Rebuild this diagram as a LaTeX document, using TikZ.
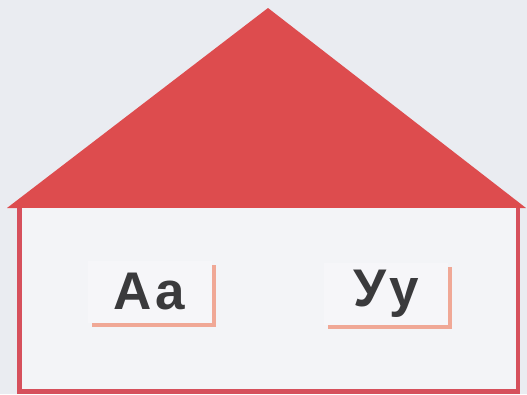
\documentclass[tikz,border=0pt]{standalone}
\usepackage{fontspec}
\setmainfont{Liberation Sans}
\begin{document}
\definecolor{bg}{RGB}{234,236,241}
\definecolor{roofred}{RGB}{221,76,78}
\definecolor{wallred}{RGB}{214,80,92}
\definecolor{cardfill}{RGB}{246,246,249}
\definecolor{shadowc}{RGB}{240,168,150}
\definecolor{letter}{RGB}{58,58,60}
\begin{tikzpicture}[x=1pt,y=-1pt,
  card/.style={draw=none, fill=cardfill, minimum width=124pt, minimum height=62pt, inner sep=0pt,
    font=\fontsize{53}{53}\selectfont\bfseries, text=letter},
  cardshadow/.style={fill=shadowc, minimum width=124pt, minimum height=62pt, inner sep=0pt, draw=none},
  wall/.style={draw=wallred, line width=4.5pt}]
\useasboundingbox (0,0) rectangle (527,394);
\fill[bg] (0,0) rectangle (527,394);
% roof
\coordinate (apex) at (268,8);
\coordinate (rl) at (7,208);
\coordinate (rr) at (526,208);
\fill[roofred] (rl) -- (apex) -- (rr) -- cycle;
% walls
\coordinate (wl) at (19.5,208);
\coordinate (wr) at (518,208);
\coordinate (bl) at (19.5,391.5);
\coordinate (br) at (518,391.5);
\fill[bg!60!white] (wl) rectangle (br);
\draw[wall, line join=miter] (wl) -- (bl) -- (br) -- (wr);
% cards
\node[cardshadow] (s1) at (154,295.5) {};
\node[card] (c1) at (149.5,291.5) {A\hspace{4pt}a};
\node[cardshadow] (s2) at (390,298) {};
\node[card] (c2) at (386,294) {У\hspace{3pt}у};
\end{tikzpicture}
\end{document}
